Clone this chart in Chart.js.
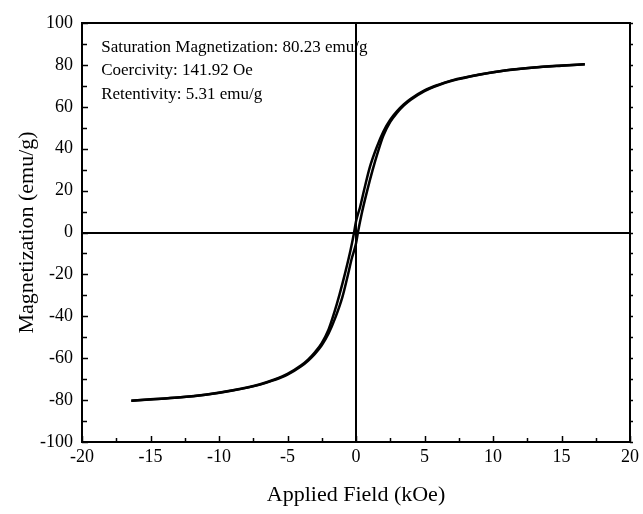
<!DOCTYPE html>
<html>
<head>
<meta charset="utf-8">
<script src="https://cdn.jsdelivr.net/npm/chart.js@4/dist/chart.umd.min.js"></script>
<style>
  html, body { margin: 0; padding: 0; background: #fff; }
  #wrap { width: 643px; height: 514px; position: relative; }
</style>
</head>
<body>
<div id="wrap"><canvas id="c" width="643" height="514"></canvas></div>
<script>
// Upper branch (field sweeping down from +H), listed with increasing field
const hUpper = [-16.4, -15, -13, -11, -9, -7, -6, -5, -4, -3.5, -3, -2.5, -2, -1.6, -1.2, -0.8, -0.4, -0.14, 0, 0.3, 0.6, 1, 1.5, 2, 2.5, 3, 3.5, 4, 5, 6, 7, 9, 11, 13, 15, 16.7];
const mUpper = [-80.3, -79.65, -78.75, -77.4, -75.3, -72.4, -70.3, -67.5, -63.4, -60.7, -57.2, -52.8, -46.3, -38.5, -29.5, -19.5, -8.5, 0, 5.3, 12.2, 20.5, 31, 40.5, 48.2, 53.8, 57.9, 61.2, 63.8, 67.8, 70.5, 72.6, 75.4, 77.5, 78.8, 79.7, 80.3];
// Lower branch (field sweeping up from -H)
const hLower = [-16.4, -15, -13, -11, -9, -7, -6, -5, -4, -3.5, -3, -2.5, -2, -1.5, -1, -0.6, -0.3, 0, 0.14, 0.4, 0.8, 1.2, 1.6, 2, 2.5, 3, 3.5, 4, 5, 6, 7, 9, 11, 13, 15, 16.7];
const mLower = [-80.3, -79.7, -78.8, -77.5, -75.4, -72.6, -70.5, -67.8, -63.8, -61.2, -57.9, -53.8, -48.2, -40.5, -31, -20.5, -12.2, -5.3, 0, 8.5, 19.5, 29.5, 38.5, 46.3, 52.8, 57.2, 60.7, 63.4, 67.5, 70.3, 72.4, 75.3, 77.4, 78.75, 79.65, 80.3];

const xTickLabels = [-20, -15, -10, -5, 0, 5, 10, 15, 20];
const yTickLabels = [-100, -80, -60, -40, -20, 0, 20, 40, 60, 80, 100];
const annotationLines = [
  "Saturation Magnetization: 80.23 emu/g",
  "Coercivity: 141.92 Oe",
  "Retentivity: 5.31 emu/g"
];

const FONT = "'Liberation Serif', 'Times New Roman', serif";

function toPoints(xs, ys) { return xs.map((x, i) => ({ x: x, y: ys[i] })); }

const tickPlugin = {
  id: 'tickPlugin',
  afterDraw(chart) {
    const ctx = chart.ctx;
    const area = chart.chartArea;
    const xs = chart.scales.x, ys = chart.scales.y;
    ctx.save();
    ctx.strokeStyle = '#000';
    ctx.lineWidth = 2;
    // frame top/right
    ctx.beginPath();
    ctx.moveTo(area.left, area.top);
    ctx.lineTo(area.right, area.top);
    ctx.lineTo(area.right, area.bottom);
    ctx.stroke();
    ctx.lineWidth = 1.5;
    // bottom inward ticks
    xs.ticks.forEach(t => {
      const px = Math.round(xs.getPixelForValue(t.value)) + 0.5;
      const major = xTickLabels.includes(t.value);
      ctx.beginPath();
      ctx.moveTo(px, area.bottom);
      ctx.lineTo(px, area.bottom - (major ? 6 : 4));
      ctx.stroke();
    });
    // left inward ticks and right outward ticks
    ys.ticks.forEach(t => {
      const py = Math.round(ys.getPixelForValue(t.value)) + 0.5;
      const major = yTickLabels.includes(t.value);
      ctx.beginPath();
      ctx.moveTo(area.left, py);
      ctx.lineTo(area.left + (major ? 6 : 5), py);
      ctx.stroke();
      ctx.beginPath();
      ctx.moveTo(area.right, py);
      ctx.lineTo(area.right + 3, py);
      ctx.stroke();
    });
    // annotation text
    ctx.fillStyle = '#000';
    ctx.font = '17px ' + FONT;
    ctx.textAlign = 'left';
    ctx.textBaseline = 'middle';
    const tx = xs.getPixelForValue(-18.6);
    const ty0 = ys.getPixelForValue(88.5);
    annotationLines.forEach((s, i) => ctx.fillText(s, tx, ty0 + i * 23.8));
    ctx.restore();
  }
};

new Chart(document.getElementById('c'), {
  type: 'scatter',
  data: {
    datasets: [
      { data: toPoints(hUpper, mUpper), showLine: true, borderColor: '#000', borderWidth: 2.5, pointRadius: 0, cubicInterpolationMode: 'monotone', fill: false },
      { data: toPoints(hLower, mLower), showLine: true, borderColor: '#000', borderWidth: 2.5, pointRadius: 0, cubicInterpolationMode: 'monotone', fill: false }
    ]
  },
  options: {
    responsive: false,
    animation: false,
    devicePixelRatio: 1,
    layout: { padding: { top: 23, right: 13, left: 0, bottom: 0 } },
    plugins: { legend: { display: false }, tooltip: { enabled: false } },
    scales: {
      x: {
        type: 'linear', min: -20, max: 20,
        afterFit(s) { s.height = 72; },
        ticks: {
          stepSize: 2.5, autoSkip: false, maxRotation: 0, padding: 4, color: '#000',
          font: { family: FONT, size: 18 },
          callback: v => xTickLabels.includes(v) ? String(v) : ''
        },
        grid: { drawTicks: false, color: c => (c.tick && c.tick.value === 0) ? '#000' : 'rgba(0,0,0,0)', lineWidth: 2 },
        border: { display: true, color: '#000', width: 2 },
        title: { display: true, text: 'Applied Field (kOe)', color: '#000', font: { family: FONT, size: 22 }, padding: { top: 0, bottom: 6 } }
      },
      y: {
        type: 'linear', min: -100, max: 100,
        afterFit(s) { s.width = 82; },
        ticks: {
          stepSize: 10, autoSkip: false, padding: 9, color: '#000',
          font: { family: FONT, size: 18 },
          callback: v => yTickLabels.includes(v) ? String(v) : ''
        },
        grid: { drawTicks: false, color: c => (c.tick && c.tick.value === 0) ? '#000' : 'rgba(0,0,0,0)', lineWidth: 2 },
        border: { display: true, color: '#000', width: 2 },
        title: { display: true, text: 'Magnetization (emu/g)', color: '#000', font: { family: FONT, size: 22 }, padding: { top: 14, bottom: 0 } }
      }
    }
  },
  plugins: [tickPlugin]
});
</script>
</body>
</html>
